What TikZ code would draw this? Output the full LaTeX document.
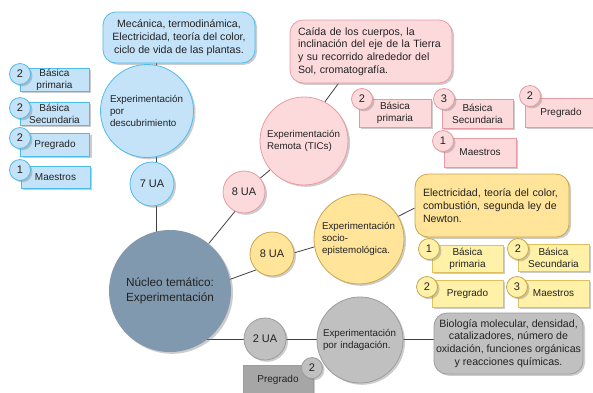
\documentclass[tikz,border=0pt]{standalone}
\usepackage{fontspec}
\setmainfont{Liberation Sans}
\usetikzlibrary{shadows,calc}
\pgfdeclarelayer{background}
\pgfsetlayers{background,main}
\definecolor{txt}{HTML}{222222}
\definecolor{bfill}{HTML}{C4E2F8}
\definecolor{bdraw}{HTML}{4DBDEB}
\definecolor{pfill}{HTML}{FCDADC}
\definecolor{pdraw}{HTML}{E89AA3}
\definecolor{yfill}{HTML}{FFE49A}
\definecolor{ydraw}{HTML}{C9A64A}
\definecolor{ybox}{HTML}{FFF1A8}
\definecolor{yboxdraw}{HTML}{E0C05A}
\definecolor{gfill}{HTML}{C0C0C0}
\definecolor{gdraw}{HTML}{9C9C9C}
\definecolor{gdark}{HTML}{A6A6A6}
\definecolor{bigfill}{HTML}{8199AE}
\definecolor{linec}{HTML}{404040}
\begin{document}
\begin{tikzpicture}[x=1pt,y=-1pt,
  every node/.style={text=txt, inner sep=0pt},
  shad/.style={drop shadow={opacity=0.4,shadow xshift=2pt,shadow yshift=-1.8pt}},
  circ/.style={circle, draw, line width=0.8pt, shad, text width=74pt, align=left, font=\fontsize{9.8}{12}\selectfont},
  desc/.style={rectangle, rounded corners=13pt, draw, line width=0.8pt, shad, font=\fontsize{10.6}{12.8}\selectfont},
  sbox/.style={rectangle, draw, line width=0.8pt, shad, minimum width=71pt, minimum height=27pt, align=center, font=\fontsize{10}{12.2}\selectfont},
  badge/.style={circle, draw, line width=0.8pt, shad, minimum size=21pt, font=\fontsize{11}{13}\selectfont},
  ua/.style={circle, draw, line width=0.8pt, shad, font=\fontsize{11}{13}\selectfont},
  conn/.style={draw=linec, line width=0.8pt},
  ]
\useasboundingbox (0,0) rectangle (593,392);

% ---------- central node
\node[circle, fill=bigfill, shad, minimum size=122pt, align=left, font=\fontsize{11.8}{14.5}\selectfont] (big) at (170,291) {Núcleo temático:\\Experimentación};

% ---------- blue branch
\node[desc, fill=bfill, draw=bdraw, minimum width=152pt, minimum height=51pt, align=center] (bdesc) at (179,37.5) {Mecánica, termodinámica,\\Electricidad, teoría del color,\\ciclo de vida de las plantas.};
\node[circ, fill=bfill, draw=bdraw, minimum size=93pt] (bcirc) at (147,111) {Experimentación\\por\\descubrimiento};
\node[ua, fill=bfill, draw=bdraw, minimum size=44pt] (bua) at (152,184) {7 UA};

\node[sbox, fill=bfill, draw=bdraw, minimum width=69pt, minimum height=23pt] (b1) at (54.5,80) {Básica\\primaria};
\node[sbox, fill=bfill, draw=bdraw, minimum width=69pt, minimum height=23pt] (b2) at (54.5,113.5) {Básica\\Secundaria};
\node[sbox, fill=bfill, draw=bdraw, minimum width=69pt, minimum height=23pt] (b3) at (55,145) {Pregrado};
\node[sbox, fill=bfill, draw=bdraw, minimum width=69pt, minimum height=22pt] (b4) at (55.5,177.5) {Maestros};
\node[badge, fill=bfill, draw=bdraw] (bb1) at (20,74) {2};
\node[badge, fill=bfill, draw=bdraw] (bb2) at (20,108) {2};
\node[badge, fill=bfill, draw=bdraw] (bb3) at (20,138) {2};
\node[badge, fill=bfill, draw=bdraw] (bb4) at (20,170) {1};

% ---------- pink branch
\node[desc, fill=pfill, draw=pdraw, minimum width=162pt, minimum height=63pt, text width=146pt, align=left] (pdesc) at (371,51.5) {Caída de los cuerpos, la\\inclinación del eje de la Tierra\\y su recorrido alrededor del\\Sol, cromatografía.};
\node[circ, fill=pfill, draw=pdraw, minimum size=88pt] (pcirc) at (304,141) {Experimentación\\Remota (TICs)};
\node[ua, fill=pfill, draw=pdraw, minimum size=42pt] (pua) at (244,192) {8 UA};

\node[sbox, fill=pfill, draw=pdraw, minimum width=72pt, minimum height=28pt] (p1) at (395,113) {Básica\\primaria};
\node[sbox, fill=pfill, draw=pdraw, minimum width=71pt, minimum height=29pt] (p2) at (477.5,113.5) {Básica\\Secundaria};
\node[sbox, fill=pfill, draw=pdraw, minimum width=72pt, minimum height=29pt] (p3) at (561,112.5) {Pregrado};
\node[sbox, fill=pfill, draw=pdraw, minimum width=72pt, minimum height=29pt] (p4) at (480,152.5) {Maestros};
\node[badge, fill=pfill, draw=pdraw] (pb1) at (362,99) {2};
\node[badge, fill=pfill, draw=pdraw] (pb2) at (444,99) {3};
\node[badge, fill=pfill, draw=pdraw] (pb3) at (530,96) {2};
\node[badge, fill=pfill, draw=pdraw] (pb4) at (443,141) {1};

% ---------- yellow branch
\node[desc, fill=yfill, draw=ydraw, minimum width=154pt, minimum height=63pt, text width=138pt, align=left] (ydesc) at (492,205.5) {Electricidad, teoría del color,\\combustión, segunda ley de\\Newton.};
\node[circ, fill=yfill, draw=ydraw, minimum size=90pt] (ycirc) at (359,239) {Experimentación\\socio-\\epistemológica.};
\node[ua, fill=yfill, draw=ydraw, minimum size=44pt] (yua) at (272,254) {8 UA};

\node[sbox, fill=ybox, draw=yboxdraw] (y1) at (467.5,258.5) {Básica\\primaria};
\node[sbox, fill=ybox, draw=yboxdraw] (y2) at (553.5,258) {Básica\\Secundaria};
\node[sbox, fill=ybox, draw=yboxdraw] (y3) at (467.5,293.5) {Pregrado};
\node[sbox, fill=ybox, draw=yboxdraw] (y4) at (553.5,293.5) {Maestros};
\node[badge, fill=ybox, draw=ydraw] (yb1) at (429,249) {1};
\node[badge, fill=ybox, draw=ydraw] (yb2) at (518,249) {2};
\node[badge, fill=ybox, draw=ydraw] (yb3) at (427,287) {2};
\node[badge, fill=ybox, draw=ydraw] (yb4) at (517,287) {3};

% ---------- gray branch
\node[circ, fill=gfill, draw=gdraw, minimum size=86pt] (gcirc) at (360,340) {Experimentación\\por indagación.};
\node[ua, fill=gfill, draw=gdraw, minimum size=42pt] (gua) at (265,339) {2 UA};
\node[desc, fill=gfill, draw=gdraw, minimum width=149pt, minimum height=61pt, align=center] (gdesc) at (508.5,343.5) {Biología molecular, densidad,\\catalizadores, número de\\oxidación, funciones orgánicas\\y reacciones químicas.};
\node[sbox, fill=gdark, draw=gdraw, minimum width=70pt, minimum height=30pt] (g1) at (278,380) {Pregrado};
\node[badge, fill=gfill, draw=gdraw] (gb1) at (312,368) {2};

% ---------- connectors
\begin{pgfonlayer}{background}
\draw[conn] (bcirc.78 |- bdesc.south) -- (bcirc.78 |- big.center);
\draw[conn] (big) -- (pua.245);
\draw[conn] (pua) -- (pcirc);
\draw[conn] (pcirc.62) -- ($(pdesc.south west)!0.3!(pdesc.south east)$);
\draw[conn] (big.11) -- (yua.225);
\draw[conn] (yua.3) -- (ycirc.190);
\draw[conn] (ycirc.30) -- ($(ydesc.north west)!0.54!(ydesc.south west)$);
\draw[conn] (gua.center -| big.center) -- (gua.center -| gdesc.west);
\end{pgfonlayer}
\end{tikzpicture}
\end{document}
